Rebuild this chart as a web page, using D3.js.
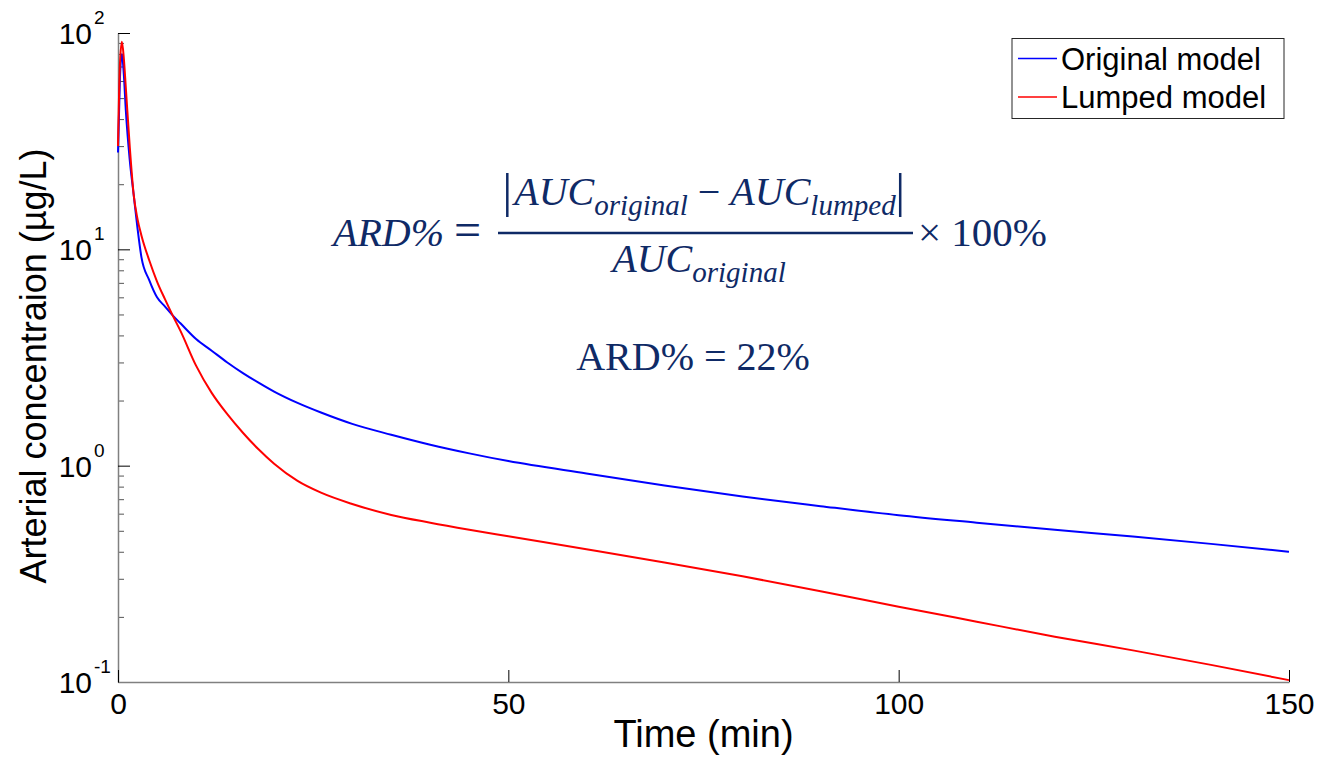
<!DOCTYPE html>
<meta charset="utf-8">
<html>
<head>
<title>Arterial concentration</title>
<style>
  body { margin: 0; background: #fff; }
  svg text { font-family: "Liberation Sans", Arial, sans-serif; }
  .math { font-family: "Liberation Serif", "Times New Roman", serif; fill: #0f2a66; }
</style>
</head>
<body>
<div id="chart"></div>
<script src="https://d3js.org/d3.v7.min.js"></script>
<script>
// time points (min) and concentrations (ug/L)
var times = [0, 0.25, 0.5, 0.75, 1, 1.5, 2, 2.5, 3, 4, 5, 6, 7, 8, 10, 12, 14, 16, 18, 20,
             23, 26, 30, 35, 40, 45, 50, 60, 70, 80, 90, 100, 110, 120, 130, 140, 150]
var originalModel = [28, 62, 80, 64, 44, 26, 18, 12.5, 9.2, 7.2, 6.0, 5.45, 4.95, 4.55, 3.85, 3.4, 3.0, 2.68, 2.42, 2.2,
                     1.95, 1.76, 1.56, 1.39, 1.25, 1.14, 1.05, 0.92, 0.81, 0.72, 0.65, 0.59, 0.545, 0.505, 0.47, 0.435, 0.40]
var lumpedModel = [30, 72, 91, 76, 56, 30, 18, 13.8, 11.6, 8.9, 7.1, 5.9, 4.95, 4.2, 2.9, 2.17, 1.73, 1.42, 1.19, 1.02,
                   0.85, 0.75, 0.665, 0.592, 0.545, 0.506, 0.472, 0.411, 0.357, 0.308, 0.263, 0.223, 0.19, 0.162, 0.14, 0.12, 0.102]

var seriesNames = ["Original model", "Lumped model"]
var seriesColors = ["#0000ff", "#ff0000"]
var xTicks = [0, 50, 100, 150]
var yExponents = [-1, 0, 1, 2]

var W = 1321, H = 760
var margin = {top: 33, right: 32, bottom: 78, left: 118}

var svg = d3.select("#chart").append("svg")
  .attr("width", W)
  .attr("height", H)

var x = d3.scaleLinear().domain([0, 150]).range([margin.left, W - margin.right])
var y = d3.scaleLog().domain([0.1, 100]).range([H - margin.bottom, margin.top])

// minor ticks on log axis
var minorVals = []
yExponents.slice(0, 3).forEach(function(e) {
  for (var k = 2; k <= 9; k++) minorVals.push(k * Math.pow(10, e))
})

var gMinor = svg.append("g")
  .attr("transform", "translate(" + margin.left + ",0)")
  .call(d3.axisLeft(y).tickValues(minorVals).tickSize(-6).tickSizeOuter(0).tickFormat(""))
gMinor.select(".domain").remove()
gMinor.selectAll(".tick line").attr("stroke", "#555")

var gy = svg.append("g")
  .attr("transform", "translate(" + margin.left + ",0)")
  .call(d3.axisLeft(y).tickValues(yExponents.map(function(e) { return Math.pow(10, e) }))
    .tickSize(-12).tickSizeOuter(0).tickFormat(""))
gy.select(".domain").attr("stroke", "#808080").attr("stroke-width", 1.5)
gy.selectAll(".tick line").attr("stroke", "#000")

// y tick labels as 10 with superscript exponent
yExponents.forEach(function(e) {
  var ty = y(Math.pow(10, e))
  svg.append("text")
    .attr("x", 92).attr("y", ty + 11)
    .attr("text-anchor", "end")
    .style("font-size", "30px")
    .text("10")
  svg.append("text")
    .attr("x", 94).attr("y", ty - 9)
    .style("font-size", "19px")
    .text(e)
})

var gx = svg.append("g")
  .attr("transform", "translate(0," + (H - margin.bottom) + ")")
  .call(d3.axisBottom(x).tickValues(xTicks).tickSize(-12).tickSizeOuter(0).tickPadding(11))
gx.select(".domain").attr("stroke", "#808080").attr("stroke-width", 1.5)
gx.selectAll(".tick line").attr("stroke", "#000")
gx.selectAll(".tick text").style("font-size", "30px").attr("fill", "#000")
  .style("font-family", '"Liberation Sans", Arial, sans-serif')

// axis labels
svg.append("text")
  .attr("x", (x(0) + x(150)) / 2).attr("y", 747)
  .attr("text-anchor", "middle")
  .style("font-size", "38px")
  .text("Time (min)")

svg.append("text")
  .attr("transform", "translate(46,366) rotate(-90)")
  .attr("text-anchor", "middle")
  .style("font-size", "36px")
  .text("Arterial concentraion (\u00b5g/L)")

// curves
var line = d3.line()
  .x(function(d) { return x(d[0]) })
  .y(function(d) { return y(d[1]) })
  .curve(d3.curveMonotoneX)

var series = [originalModel, lumpedModel]
series.forEach(function(vals, i) {
  svg.append("path")
    .datum(times.map(function(t, j) { return [t, vals[j]] }))
    .attr("fill", "none")
    .attr("stroke", seriesColors[i])
    .attr("stroke-width", 2)
    .attr("d", line)
})

// legend
var lg = svg.append("g").attr("transform", "translate(1012,38.5)")
lg.append("rect")
  .attr("width", 272).attr("height", 80)
  .attr("fill", "#fff").attr("stroke", "#262626").attr("stroke-width", 1)
seriesNames.forEach(function(name, i) {
  var ly = 20 + i * 38.5
  lg.append("line")
    .attr("x1", 6).attr("x2", 45).attr("y1", ly).attr("y2", ly)
    .attr("stroke", seriesColors[i]).attr("stroke-width", 1.5)
  lg.append("text")
    .attr("x", 49).attr("y", ly + 11)
    .style("font-size", "31px")
    .text(name)
})

// formula annotation
function mathText(px, py, anchor, parts) {
  var t = svg.append("text").attr("class", "math")
    .attr("x", px).attr("y", py).attr("text-anchor", anchor)
  var shifted = 0
  parts.forEach(function(p) {
    var dy = (p.sub ? 10 : 0) - shifted
    shifted = p.sub ? 10 : 0
    t.append("tspan")
      .attr("dy", dy)
      .style("font-style", p.it ? "italic" : "normal")
      .style("font-size", p.size || (p.sub ? "29px" : "40px"))
      .text(p.s)
  })
  return t
}

mathText(333, 246, "start", [{s: "ARD%", it: true}, {s: " "}, {s: "=", size: "48px"}])
var num = mathText(705, 205, "middle", [
  {s: "AUC", it: true}, {s: "original", it: true, sub: true},
  {s: " \u2212 "}, {s: "AUC", it: true}, {s: "lumped", it: true, sub: true}])
var nb = num.node().getBBox()
;[nb.x - 4, nb.x + nb.width + 4].forEach(function(bx) {
  svg.append("line")
    .attr("x1", bx).attr("x2", bx).attr("y1", 173).attr("y2", 217)
    .attr("stroke", "#0f2a66").attr("stroke-width", 2.5)
})
svg.append("line")
  .attr("x1", 498).attr("x2", 913).attr("y1", 233).attr("y2", 233)
  .attr("stroke", "#0f2a66").attr("stroke-width", 2.5)
mathText(699, 272, "middle", [{s: "AUC", it: true}, {s: "original", it: true, sub: true}])
mathText(918, 246, "start", [{s: "\u00d7 100%", size: "41px"}])
mathText(693, 370, "middle", [{s: "ARD% = 22%"}])
</script>
</body>
</html>
